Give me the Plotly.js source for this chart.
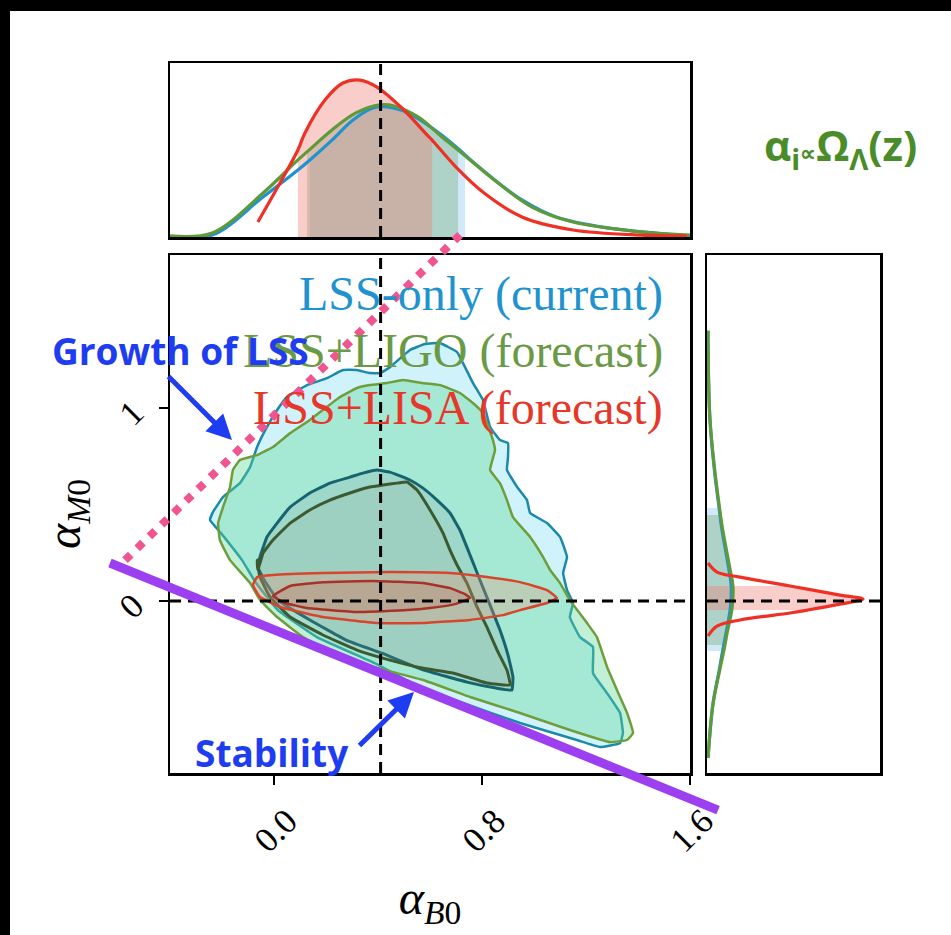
<!DOCTYPE html>
<html>
<head>
<meta charset="utf-8">
<script src="https://cdn.plot.ly/plotly-3.0.1.min.js"></script>
<style>html,body{margin:0;padding:0;background:#fff}#chart{width:951px;height:935px}</style>
</head>
<body>
<div id="chart"></div>
<script>
// ---------------- DATA ----------------
const xTickVals = [0, 0.8, 1.6];
const xTickText = ['0.0', '0.8', '1.6'];
const yTickVals = [0, 1];
const yTickText = ['0', '1'];
const fiducialB0 = 0.41;
const fiducialM0 = 0.0;

const seriesNames = ['LSS-only (current)', 'LSS+LIGO (forecast)', 'LSS+LISA (forecast)'];

// 2D contours (alpha_B0, alpha_M0)
const lssOuterX = [-0.235,-0.196,-0.131,-0.092,-0.065,-0.027,0.012,0.050,0.127,0.204,0.265,0.319,0.369,0.408,0.446,0.523,0.581,0.638,0.704,0.727,0.765,0.804,0.831,0.869,0.900,0.900,0.896,0.935,0.973,0.985,1.050,1.100,1.127,1.112,1.127,1.150,1.138,1.177,1.227,1.227,1.281,1.331,1.342,1.331,1.254,1.165,0.946,0.727,0.562,0.385,0.165,0.015,-0.069,-0.123,-0.204,-0.246];
const lssOuterY = [0.461,0.539,0.611,0.694,0.798,0.902,0.990,1.057,1.119,1.155,1.197,1.197,1.181,1.181,1.212,1.301,1.332,1.337,1.290,1.233,1.130,1.041,0.902,0.834,0.819,0.746,0.679,0.591,0.523,0.456,0.404,0.332,0.228,0.145,0.057,-0.010,-0.083,-0.187,-0.238,-0.373,-0.477,-0.580,-0.684,-0.736,-0.756,-0.720,-0.632,-0.528,-0.446,-0.321,-0.187,-0.047,0.093,0.212,0.352,0.420];

const ligoOuterX = [-0.215,-0.196,-0.169,-0.158,-0.131,-0.065,-0.004,0.062,0.138,0.188,0.254,0.319,0.369,0.435,0.496,0.569,0.638,0.715,0.765,0.804,0.842,0.850,0.831,0.869,0.896,0.919,0.985,1.035,1.062,1.100,1.138,1.204,1.242,1.281,1.319,1.358,1.381,1.358,1.292,1.138,0.946,0.754,0.573,0.396,0.227,0.112,0.012,-0.054,-0.092,-0.169,-0.208];
const ligoOuterY = [0.404,0.487,0.591,0.679,0.731,0.756,0.798,0.870,0.938,0.990,1.057,1.104,1.119,1.130,1.145,1.130,1.119,1.078,1.026,0.974,0.834,0.782,0.679,0.611,0.523,0.435,0.332,0.228,0.161,0.093,0.005,-0.114,-0.187,-0.342,-0.461,-0.580,-0.684,-0.720,-0.731,-0.668,-0.580,-0.497,-0.409,-0.347,-0.269,-0.187,-0.083,0.005,0.093,0.212,0.316];

const lssInnerX = [-0.054,-0.027,0.012,0.062,0.138,0.215,0.292,0.342,0.396,0.446,0.523,0.573,0.627,0.677,0.715,0.754,0.792,0.831,0.869,0.900,0.919,0.915,0.854,0.742,0.577,0.412,0.277,0.138,0.015,-0.038,-0.062];
const lssInnerY = [0.228,0.332,0.404,0.487,0.560,0.611,0.642,0.663,0.679,0.668,0.627,0.585,0.523,0.456,0.368,0.238,0.109,-0.021,-0.150,-0.280,-0.394,-0.461,-0.451,-0.420,-0.358,-0.269,-0.202,-0.098,0.005,0.109,0.176];

const ligoInnerX = [-0.062,-0.042,-0.004,0.062,0.138,0.215,0.292,0.369,0.419,0.473,0.512,0.550,0.600,0.650,0.677,0.704,0.742,0.781,0.819,0.858,0.896,0.908,0.819,0.688,0.569,0.446,0.319,0.188,0.062,-0.015,-0.054,-0.065];
const ligoInnerY = [0.161,0.249,0.316,0.404,0.472,0.523,0.560,0.591,0.601,0.611,0.617,0.575,0.472,0.352,0.264,0.187,0.093,-0.031,-0.135,-0.254,-0.358,-0.435,-0.425,-0.373,-0.347,-0.306,-0.254,-0.176,-0.083,0.021,0.124,0.212];

const lisaOuterX = [-0.081,-0.065,-0.004,0.188,0.446,0.677,0.819,0.946,1.050,1.088,1.050,0.946,0.881,0.754,0.573,0.396,0.188,0.023,-0.054];
const lisaOuterY = [0.083,0.124,0.135,0.145,0.150,0.145,0.124,0.098,0.057,0.016,-0.010,-0.047,-0.073,-0.098,-0.114,-0.114,-0.083,-0.031,0.021];

const lisaInnerX = [-0.004,0.062,0.188,0.381,0.573,0.677,0.735,0.754,0.696,0.600,0.512,0.319,0.127,0.042];
const lisaInnerY = [0.026,0.078,0.098,0.104,0.093,0.067,0.036,0.016,-0.016,-0.036,-0.047,-0.057,-0.036,-0.010];

// 1D marginal of alpha_B0 (top panel)
const lssB0X = [-0.40,-0.238,-0.042,0.092,0.138,0.223,0.304,0.381,0.435,0.515,0.619,0.727,0.735,0.835,0.954,1.085,1.285,1.550,1.600];
const lssB0P = [0.000,0.011,0.230,0.385,0.443,0.557,0.672,0.741,0.747,0.713,0.615,0.483,0.471,0.345,0.213,0.115,0.052,0.011,0.006];
const ligoB0X = [-0.40,-0.238,-0.042,0.092,0.127,0.223,0.315,0.408,0.462,0.554,0.646,0.708,0.754,0.862,0.992,1.150,1.415,1.600];
const ligoB0P = [0.006,0.023,0.253,0.443,0.489,0.615,0.713,0.759,0.753,0.690,0.575,0.500,0.443,0.310,0.172,0.086,0.029,0.011];
const lisaB0X = [-0.062,0.023,0.092,0.119,0.196,0.265,0.331,0.396,0.488,0.596,0.608,0.700,0.808,0.954,1.150,1.415,1.588];
const lisaB0P = [0.086,0.310,0.500,0.598,0.787,0.885,0.902,0.862,0.747,0.575,0.557,0.402,0.253,0.115,0.040,0.011,0.006];
const lssB0Band = [0.138, 0.735];
const ligoB0Band = [0.127, 0.708];
const lisaB0Band = [0.092, 0.608];

// 1D marginal of alpha_M0 (right panel)
const lssM0Y = [1.400,1.316,0.943,0.668,0.482,0.389,0.166,0.078,-0.036,-0.166,-0.259,-0.352,-0.534,-0.813];
const lssM0P = [0.006,0.006,0.017,0.044,0.070,0.083,0.126,0.140,0.135,0.110,0.090,0.072,0.034,0.006];
const ligoM0Y = [1.400,1.316,0.943,0.668,0.446,0.389,0.166,0.078,-0.036,-0.166,-0.228,-0.352,-0.534,-0.813];
const ligoM0P = [0.006,0.006,0.017,0.046,0.078,0.087,0.133,0.150,0.145,0.116,0.104,0.075,0.035,0.006];
const lisaM0Y = [0.197,0.150,0.124,0.078,0.031,0.010,-0.016,-0.047,-0.062,-0.098,-0.130,-0.181];
const lisaM0P = [0.006,0.058,0.191,0.480,0.769,0.902,0.769,0.580,0.480,0.191,0.058,0.006];
const lssM0Band = [-0.259, 0.482];
const ligoM0Band = [-0.228, 0.446];
const lisaM0Band = [-0.047, 0.078];

// theory-prior lines (alpha_B0, alpha_M0)
const stabilityX = [-0.631, 1.708];
const stabilityY = [0.197, -1.083];
const growthX = [-0.573, 0.727];
const growthY = [0.212, 1.912];

// ---------------- STYLE / LAYOUT ----------------
const W = 951, H = 935;
const serif = 'Liberation Serif';
const sans = 'Open Sans';

const mainX = {domain: [170 / W, 690 / W], range: [-0.40, 1.60]};
const mainY = {domain: [(H - 773) / H, (H - 255) / H], range: [-0.891, 1.793]};
const topY = {domain: [(H - 237) / H, (H - 63) / H], range: [0, 1]};
const sideX = {domain: [707 / W, 880 / W], range: [0, 1]};

function toPaper(v, ax) {
  return ax.domain[0] + (v - ax.range[0]) / (ax.range[1] - ax.range[0]) * (ax.domain[1] - ax.domain[0]);
}
function closeLoop(a) { return a.concat([a[0]]); }

function contour(xs, ys, lineColor, fillColor, width) {
  return {type: 'scatter', mode: 'lines', x: closeLoop(xs), y: closeLoop(ys), fill: 'toself',
    fillcolor: fillColor, line: {color: lineColor, width: width, shape: 'spline', smoothing: 0.3},
    hoverinfo: 'skip', xaxis: 'x', yaxis: 'y'};
}
function bandTop(xs, ps, band, color) {
  const bx = [], bp = [];
  xs.forEach((v, i) => { if (v >= band[0] - 1e-9 && v <= band[1] + 1e-9) { bx.push(v); bp.push(ps[i]); } });
  return {type: 'scatter', mode: 'lines', x: bx, y: bp, fill: 'tozeroy', fillcolor: color,
    line: {width: 0, shape: 'spline'}, hoverinfo: 'skip', xaxis: 'x2', yaxis: 'y2'};
}
function curveTop(xs, ps, color) {
  return {type: 'scatter', mode: 'lines', x: xs, y: ps, line: {color: color, width: 3.2, shape: 'spline'},
    hoverinfo: 'skip', xaxis: 'x2', yaxis: 'y2'};
}
function bandSide(ys, ps, band, color) {
  const by = [], bp = [];
  ys.forEach((v, i) => { if (v >= band[0] - 1e-9 && v <= band[1] + 1e-9) { by.push(v); bp.push(ps[i]); } });
  return {type: 'scatter', mode: 'lines', x: bp, y: by, fill: 'tozerox', fillcolor: color,
    line: {width: 0, shape: 'spline'}, hoverinfo: 'skip', xaxis: 'x3', yaxis: 'y3'};
}
function curveSide(ys, ps, color) {
  return {type: 'scatter', mode: 'lines', x: ps, y: ys, line: {color: color, width: 3.2, shape: 'spline'},
    hoverinfo: 'skip', xaxis: 'x3', yaxis: 'y3'};
}

const cBlue = '#1f93d0', cGreen = '#5f9a3a', cRed = '#ee3124';

const traces = [
  contour(lssOuterX, lssOuterY, '#1a8aa8', 'rgba(150,228,246,0.45)', 2.5),
  contour(ligoOuterX, ligoOuterY, '#6e9e3c', 'rgba(95,215,150,0.38)', 2.5),
  contour(lssInnerX, lssInnerY, '#17646e', 'rgba(130,160,170,0.22)', 3),
  contour(ligoInnerX, ligoInnerY, '#3c5a32', 'rgba(170,160,140,0.14)', 3),
  contour(lisaOuterX, lisaOuterY, '#d6452c', 'rgba(240,150,120,0.30)', 2.5),
  contour(lisaInnerX, lisaInnerY, '#a8322a', 'rgba(190,90,70,0.22)', 2.5),

  bandTop(lssB0X, lssB0P, lssB0Band, 'rgba(140,200,240,0.40)'),
  bandTop(ligoB0X, ligoB0P, ligoB0Band, 'rgba(110,170,110,0.35)'),
  bandTop(lisaB0X, lisaB0P, lisaB0Band, 'rgba(240,130,120,0.40)'),
  curveTop(lssB0X, lssB0P, cBlue),
  curveTop(ligoB0X, ligoB0P, cGreen),
  curveTop(lisaB0X, lisaB0P, cRed),

  bandSide(lssM0Y, lssM0P, lssM0Band, 'rgba(140,200,240,0.40)'),
  bandSide(ligoM0Y, ligoM0P, ligoM0Band, 'rgba(110,170,110,0.35)'),
  bandSide(lisaM0Y, lisaM0P, lisaM0Band, 'rgba(240,130,120,0.40)'),
  curveSide(lssM0Y, lssM0P, cBlue),
  curveSide(ligoM0Y, ligoM0P, cGreen),
  curveSide(lisaM0Y, lisaM0P, cRed)
];

const frame = {showline: true, linecolor: 'black', linewidth: 2.5, mirror: true, showgrid: false, zeroline: false, fixedrange: true};
const dash = {color: 'black', width: 3, dash: '11px,7px'};

const layout = {
  width: W, height: H,
  margin: {l: 0, r: 0, t: 0, b: 0, pad: 0},
  paper_bgcolor: 'white', plot_bgcolor: 'white',
  showlegend: false,
  xaxis: Object.assign({}, frame, {domain: mainX.domain, range: mainX.range, anchor: 'y',
    tickvals: xTickVals, ticktext: xTickText, ticks: 'outside', ticklen: 9, tickwidth: 2.5, tickcolor: 'black',
    tickangle: -45, tickfont: {family: serif, size: 35, color: 'black'}, ticklabelshift: 13, ticklabelstandoff: 2,
    title: {text: '<i>α</i><sub><i>B</i>0</sub>', font: {family: serif, size: 48, color: 'black'}, standoff: 22}}),
  yaxis: Object.assign({}, frame, {domain: mainY.domain, range: mainY.range, anchor: 'x',
    tickvals: yTickVals, ticktext: yTickText, ticks: 'outside', ticklen: 9, tickwidth: 2.5, tickcolor: 'black',
    tickangle: -45, tickfont: {family: serif, size: 35, color: 'black'}, ticklabelstandoff: 18,
    title: {text: '<i>α</i><sub><i>M</i>0</sub>', font: {family: serif, size: 48, color: 'black'}, standoff: 16}}),
  xaxis2: Object.assign({}, frame, {domain: mainX.domain, range: mainX.range, anchor: 'y2', showticklabels: false, ticks: ''}),
  yaxis2: Object.assign({}, frame, {domain: topY.domain, range: topY.range, anchor: 'x2', showticklabels: false, ticks: ''}),
  xaxis3: Object.assign({}, frame, {domain: sideX.domain, range: sideX.range, anchor: 'y3', showticklabels: false, ticks: ''}),
  yaxis3: Object.assign({}, frame, {domain: mainY.domain, range: mainY.range, anchor: 'x3', showticklabels: false, ticks: ''}),
  shapes: [
    {type: 'rect', xref: 'paper', yref: 'paper', x0: 0, x1: 10 / W, y0: 0, y1: 1, fillcolor: 'black', line: {width: 0}},
    {type: 'rect', xref: 'paper', yref: 'paper', x0: 0, x1: 1, y0: 1 - 11 / H, y1: 1, fillcolor: 'black', line: {width: 0}},
    {type: 'line', xref: 'x', yref: 'y domain', x0: fiducialB0, x1: fiducialB0, y0: 0, y1: 1, line: dash},
    {type: 'line', xref: 'x domain', yref: 'y', x0: 0, x1: 1, y0: fiducialM0, y1: fiducialM0, line: dash},
    {type: 'line', xref: 'x2', yref: 'y2 domain', x0: fiducialB0, x1: fiducialB0, y0: 0, y1: 1, line: dash},
    {type: 'line', xref: 'x3 domain', yref: 'y3', x0: 0, x1: 1, y0: fiducialM0, y1: fiducialM0, line: dash},
    {type: 'line', xref: 'paper', yref: 'paper',
      x0: toPaper(growthX[0], mainX), y0: toPaper(growthY[0], mainY),
      x1: toPaper(growthX[1], mainX), y1: toPaper(growthY[1], mainY),
      line: {color: '#f0558f', width: 8, dash: '8px,9px'}},
    {type: 'line', xref: 'paper', yref: 'paper',
      x0: toPaper(stabilityX[0], mainX), y0: toPaper(stabilityY[0], mainY),
      x1: toPaper(stabilityX[1], mainX), y1: toPaper(stabilityY[1], mainY),
      line: {color: '#9b3ff0', width: 9}}
  ],
  annotations: [
    {xref: 'paper', yref: 'paper', x: 665 / W, y: (H - 294) / H, xanchor: 'right', yanchor: 'middle', showarrow: false,
      text: seriesNames[0], font: {family: serif, size: 48, color: cBlue}},
    {xref: 'paper', yref: 'paper', x: 665 / W, y: (H - 351) / H, xanchor: 'right', yanchor: 'middle', showarrow: false,
      text: seriesNames[1], font: {family: serif, size: 48, color: '#6b9a46'}},
    {xref: 'paper', yref: 'paper', x: 665 / W, y: (H - 408) / H, xanchor: 'right', yanchor: 'middle', showarrow: false,
      text: seriesNames[2], font: {family: serif, size: 48, color: '#e5382b'}},
    {xref: 'paper', yref: 'paper', x: 50 / W, y: (H - 350) / H, xanchor: 'left', yanchor: 'middle', showarrow: false,
      text: '<b>Growth of LSS</b>', font: {family: sans, size: 37, color: '#1e3cf0'}},
    {xref: 'paper', yref: 'paper', x: 232 / W, y: (H - 440) / H, ax: -65, ay: -65, axref: 'pixel', ayref: 'pixel',
      text: '', showarrow: true, arrowhead: 2, arrowsize: 1, arrowwidth: 5, arrowcolor: '#1e3cf0', standoff: 0},
    {xref: 'paper', yref: 'paper', x: 193 / W, y: (H - 752) / H, xanchor: 'left', yanchor: 'middle', showarrow: false,
      text: '<b>Stability</b>', font: {family: sans, size: 37, color: '#1e3cf0'}},
    {xref: 'paper', yref: 'paper', x: 414 / W, y: (H - 692) / H, ax: -56, ay: 55, axref: 'pixel', ayref: 'pixel',
      text: '', showarrow: true, arrowhead: 2, arrowsize: 1, arrowwidth: 5, arrowcolor: '#1e3cf0', standoff: 0},
    {xref: 'paper', yref: 'paper', x: 840 / W, y: (H - 147) / H, xanchor: 'center', yanchor: 'middle', showarrow: false,
      text: '<b>α<sub>i</sub><span style="font-size:22px">∝</span>Ω<sub>Λ</sub>(z)</b>', font: {family: sans, size: 42, color: '#4a8c28'}}
  ]
};

Plotly.newPlot('chart', traces, layout, {displayModeBar: false, staticPlot: true});
</script>
</body>
</html>
